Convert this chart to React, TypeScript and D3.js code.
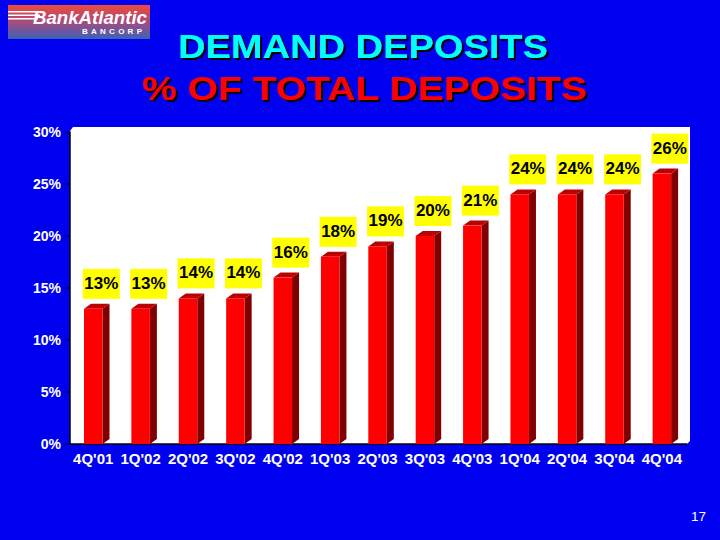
import React from "react";
import * as d3 from "d3";

const categories = ["4Q'01", "1Q'02", "2Q'02", "3Q'02", "4Q'02", "1Q'03", "2Q'03", "3Q'03", "4Q'03", "1Q'04", "2Q'04", "3Q'04", "4Q'04"];
const values = [13, 13, 14, 14, 16, 18, 19, 20, 21, 24, 24, 24, 26];
const yTicks = [0, 5, 10, 15, 20, 25, 30];

const FONT = "'Liberation Sans', Arial, Helvetica, sans-serif";

export default function App() {
  const W = 720, H = 540;
  const x0 = 70, x1 = 686;
  const yBase = 444;
  const x = d3.scaleBand<string>().domain(categories).range([x0, x1]).padding(0);
  const y = d3.scaleLinear().domain([0, 30]).range([yBase, 132]);
  const fw = 18.5;
  const fOff = 14;
  const dx = 7, dy = 5;

  return (
    <div style={{ position: "fixed", left: 0, top: 0, width: W, height: H }}>
      <svg width={W} height={H} style={{ display: "block" }}>
        <defs>
          <linearGradient id="logoG" x1="0" y1="0" x2="0" y2="1">
            <stop offset="0" stopColor="#ec4a3a" />
            <stop offset="0.45" stopColor="#b04a78" />
            <stop offset="1" stopColor="#3a62b8" />
          </linearGradient>
          <pattern id="dots" width="2" height="2" patternUnits="userSpaceOnUse">
            <rect width="2" height="2" fill="#b00000" />
            <rect width="1" height="1" fill="#e00000" />
          </pattern>
          <filter id="shadow" x="-5%" y="-20%" width="110%" height="140%">
            <feOffset in="SourceAlpha" dx="2" dy="2" result="off" />
            <feFlood floodColor="#000" result="blk" />
            <feComposite in="blk" in2="off" operator="in" result="sh" />
            <feMerge>
              <feMergeNode in="sh" />
              <feMergeNode in="SourceGraphic" />
            </feMerge>
          </filter>
        </defs>
        <rect width={W} height={H} fill="#0000f0" />

        {/* Logo */}
        <rect x={8} y={5} width={142} height={34} fill="url(#logoG)" />
        <rect x={8} y={11} width={34} height={1.5} fill="#fff" />
        <rect x={8} y={14.5} width={32} height={1.5} fill="#fff" />
        <rect x={8} y={18} width={30} height={1.5} fill="#fff" />
        <text x={33} y={24} fontFamily={FONT} fontWeight="bold" fontStyle="italic" fontSize={19} fill="#fff" textLength={114} lengthAdjust="spacingAndGlyphs">BankAtlantic</text>
        <text x={82} y={34} fontFamily={FONT} fontWeight="bold" fontSize={8} fill="#fff" textLength={60} lengthAdjust="spacing">BANCORP</text>

        {/* Titles */}
        <g fontFamily={FONT} fontWeight="bold" filter="url(#shadow)">
          <text x={178} y={57.5} fontSize={33} fill="#00ffff" textLength={370} lengthAdjust="spacingAndGlyphs">DEMAND DEPOSITS</text>
          <text x={142} y={99.5} fontSize={34} fill="#ff0000" textLength={445} lengthAdjust="spacingAndGlyphs">% OF TOTAL DEPOSITS</text>
        </g>

        {/* Plot wall */}
        <polygon points={`${x0},131 73,127 690,127 690,441 687,${yBase} ${x0},${yBase}`} fill="#fff" />
        <line x1={x0} y1={y(30) - 0.5} x2={x0} y2={yBase} stroke="#000" strokeWidth={1.5} />
        <line x1={x0} y1={yBase} x2={687} y2={yBase} stroke="#000" strokeWidth={1.5} />

        {/* Y axis */}
        <g fontFamily={FONT} fontWeight="bold" fontSize={14} fill="#fff">
          {yTicks.map((t) => (
            <g key={t}>
              <line x1={65} x2={x0} y1={y(t)} y2={y(t)} stroke="#000" strokeWidth={1} />
              <text x={61} y={y(t) + 5} textAnchor="end">{t}%</text>
            </g>
          ))}
        </g>

        {/* Bars */}
        {categories.map((c, i) => {
          const v = values[i];
          const bx = (x(c) as number) + fOff;
          const by = y(v);
          return (
            <g key={c}>
              <polygon points={`${bx + fw},${by} ${bx + fw + dx},${by - dy} ${bx + fw + dx},${yBase - dy} ${bx + fw},${yBase}`} fill="#800000" />
              <polygon points={`${bx},${by} ${bx + fw},${by} ${bx + fw + dx},${by - dy} ${bx + dx},${by - dy}`} fill="url(#dots)" />
              <rect x={bx} y={by} width={fw} height={yBase - by} fill="#ff0000" />
            </g>
          );
        })}

        {/* Value labels */}
        <g fontFamily={FONT} fontWeight="bold" fontSize={17}>
          {categories.map((c, i) => {
            const v = values[i];
            const cx = (x(c) as number) + fOff + fw / 2 + 8;
            const bottom = y(v) - 10;
            return (
              <g key={c}>
                <rect x={cx - 18.5} y={bottom - 30} width={37} height={30} fill="#ffff00" />
                <text x={cx} y={bottom - 10} textAnchor="middle" fill="#000">{v}%</text>
              </g>
            );
          })}
        </g>

        {/* X labels */}
        <g fontFamily={FONT} fontWeight="bold" fontSize={15} fill="#fff">
          {categories.map((c) => (
            <text key={c} x={(x(c) as number) + fOff + fw / 2} y={463.5} textAnchor="middle">{c}</text>
          ))}
        </g>

        <text x={706} y={521} textAnchor="end" fontFamily={FONT} fontSize={13.5} fill="#fff">17</text>
      </svg>
    </div>
  );
}
